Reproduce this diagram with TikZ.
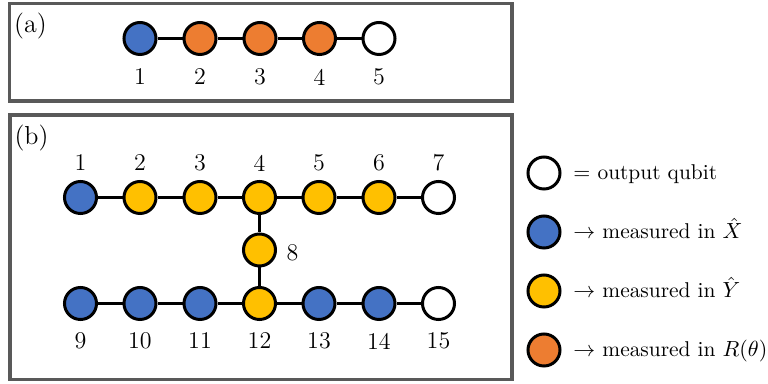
\documentclass[tikz,border=0pt]{standalone}
\begin{document}
\definecolor{qblue}{HTML}{4472C4}
\definecolor{qorange}{HTML}{ED7D31}
\definecolor{qyellow}{HTML}{FFC000}
\definecolor{panelgray}{HTML}{595959}
\begin{tikzpicture}[x=0.5pt,y=-0.5pt,
  q/.style={circle, draw=black, line width=1.5pt, minimum size=16pt, inner sep=0pt},
  qw/.style={q, fill=white},
  qb/.style={q, fill=qblue},
  qo/.style={q, fill=qorange},
  qy/.style={q, fill=qyellow},
  edge/.style={draw=black, line width=1.5pt},
  panel/.style={draw=panelgray, line width=1.8pt},
  lab/.style={inner sep=0pt, font=\fontsize{12}{14}\selectfont},
  plab/.style={inner sep=0pt, font=\fontsize{13}{15}\selectfont},
  leg/.style={inner sep=0pt, anchor=base west, font=\fontsize{10.7}{13}\selectfont}]
\useasboundingbox (0,0) rectangle (768,384);
% panels
\draw[panel] (9.5,3.5) rectangle (512,101);
\draw[panel] (10,115) rectangle (512,379.5);
\node[plab] (tA) at (30.5,26) {(a)};
\node[plab] (tB) at (31.5,138) {(b)};
% panel (a)
\node[qb] (a1) at (140,38.5) {};
\node[qo] (a2) at (200,38.5) {};
\node[qo] (a3) at (260,38.5) {};
\node[qo] (a4) at (319.5,38.5) {};
\node[qw] (a5) at (379,38.5) {};
\draw[edge] (a1) -- (a2) (a2) -- (a3) (a3) -- (a4) (a4) -- (a5);
\foreach \i/\x in {1/140,2/200,3/260,4/319.5,5/379}
  \node[lab] (la\i) at (\x,77) {\i};
% panel (b)
\node[qb] (b1) at (80.5,197.5) {};
\node[qy] (b2) at (140,197.5) {};
\node[qy] (b3) at (200,197.5) {};
\node[qy] (b4) at (259.5,197.5) {};
\node[qy] (b5) at (319,197.5) {};
\node[qy] (b6) at (379,197.5) {};
\node[qw] (b7) at (438.5,197.5) {};
\node[qy] (b8) at (259.5,250) {};
\node[qb] (b9) at (80.5,303.5) {};
\node[qb] (b10) at (140,303.5) {};
\node[qb] (b11) at (200,303.5) {};
\node[qy] (b12) at (259.5,303.5) {};
\node[qb] (b13) at (319,303.5) {};
\node[qb] (b14) at (379,303.5) {};
\node[qw] (b15) at (438.5,303.5) {};
\draw[edge] (b1) -- (b2) (b2) -- (b3) (b3) -- (b4) (b4) -- (b5) (b5) -- (b6) (b6) -- (b7);
\draw[edge] (b9) -- (b10) (b10) -- (b11) (b11) -- (b12) (b12) -- (b13) (b13) -- (b14) (b14) -- (b15);
\draw[edge] (b4) -- (b8) (b8) -- (b12);
\foreach \i/\x in {1/80.5,2/140,3/200,4/259.5,5/319,6/379,7/438.5}
  \node[lab] (lb\i) at (\x,163) {\i};
\foreach \i/\x in {9/80.5,10/140,11/200,12/259.5,13/319,14/379,15/438.5}
  \node[lab] (lb\i) at (\x,341) {\i};
\node[lab] (lb8) at (292.5,253) {8};
% legend
\node[qw] (k1) at (544,173) {};
\node[qb] (k2) at (544,232) {};
\node[qy] (k3) at (544,291) {};
\node[qo] (k4) at (544,350) {};
\node[leg] (t1) at (573,180) {$=$ output qubit};
\node[leg] (t2) at (573,239) {$\rightarrow$ measured in $\hat{X}$};
\node[leg] (t3) at (573,298) {$\rightarrow$ measured in $\hat{Y}$};
\node[leg] (t4) at (573,357) {$\rightarrow$ measured in $R(\theta)$};
\end{tikzpicture}
\end{document}
